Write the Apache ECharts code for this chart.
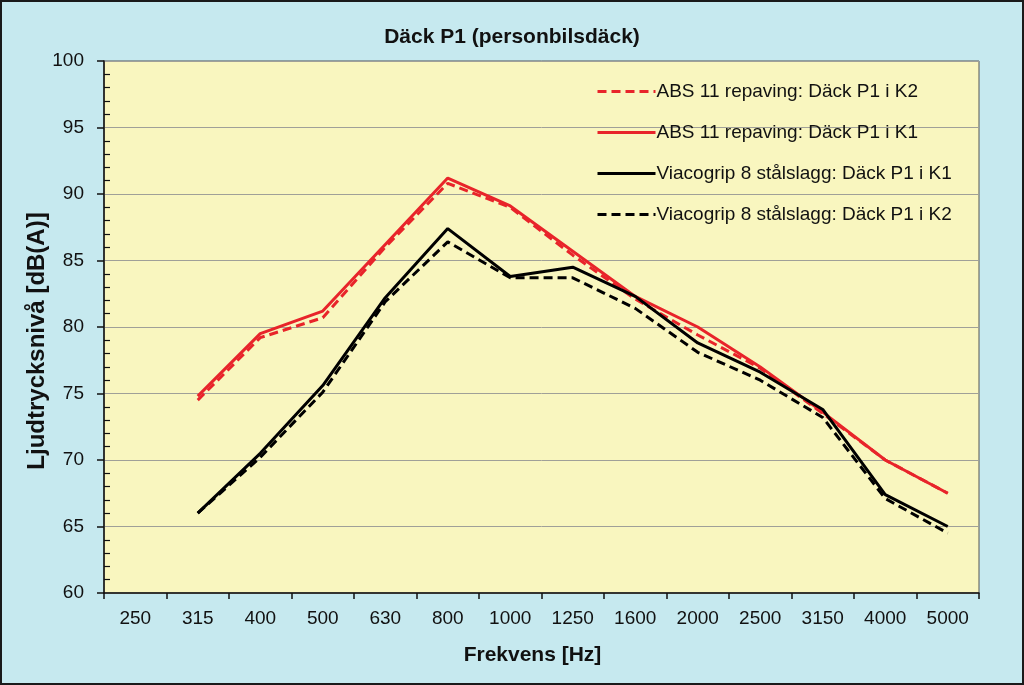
<!DOCTYPE html>
<html>
<head>
<meta charset="utf-8">
<script src="https://cdn.jsdelivr.net/npm/echarts@6/dist/echarts.min.js"></script>
<style>
  html, body { margin: 0; padding: 0; background: #c6e9ef; }
  #chart { width: 1024px; height: 685px; box-sizing: border-box; border: 2px solid #1a1a1a; }
</style>
</head>
<body>
<div id="chart"></div>
<script>
// frekvenser (tersband)
const frequencies = ['250', '315', '400', '500', '630', '800', '1000', '1250', '1600', '2000', '2500', '3150', '4000', '5000'];

// ljudtrycksnivå dB(A), 250 Hz saknas
const absK2 = [null, 74.5, 79.2, 80.7, 86.0, 90.8, 89.0, 85.4, 82.1, 79.4, 76.9, 73.5, 70.0, 67.5];
const absK1 = [null, 74.8, 79.5, 81.2, 86.2, 91.2, 89.1, 85.7, 82.3, 80.0, 77.0, 73.6, 70.0, 67.5];
const viaK1 = [null, 66.0, 70.5, 75.6, 82.2, 87.4, 83.8, 84.5, 82.3, 78.8, 76.6, 73.8, 67.4, 65.0];
const viaK2 = [null, 66.0, 70.2, 75.1, 81.9, 86.4, 83.7, 83.7, 81.4, 78.1, 76.0, 73.2, 67.1, 64.5];

const seriesNames = [
  'ABS 11 repaving: Däck P1 i K2',
  'ABS 11 repaving: Däck P1 i K1',
  'Viacogrip 8 stålslagg: Däck P1 i K1',
  'Viacogrip 8 stålslagg: Däck P1 i K2'
];

const font = '"Liberation Sans", Arial, sans-serif';
const myChart = echarts.init(document.getElementById('chart'));

const mkLine = (name, data, color, type) => ({
  name: name,
  type: 'line',
  data: data,
  showSymbol: false,
  symbol: 'none',
  connectNulls: false,
  lineStyle: { color: color, width: 3, type: type },
  itemStyle: { color: color },
  emphasis: { disabled: true }
});

let option = {
  animation: false,
  backgroundColor: '#c6e9ef',
  title: {
    text: 'Däck P1 (personbilsdäck)',
    left: 'center',
    top: 20,
    textStyle: { fontFamily: font, fontSize: 21, fontWeight: 'bold', color: '#111' }
  },
  legend: {
    orient: 'vertical',
    left: 589,
    top: 75,
    itemWidth: 58,
    itemHeight: 14,
    itemGap: 22,
    itemStyle: { opacity: 0 },
    lineStyle: { width: 3 },
    textStyle: { fontFamily: font, fontSize: 19, color: '#111', padding: [0, 0, 0, -4] },
    data: seriesNames
  },
  grid: {
    left: 102,
    top: 59,
    right: 43,
    bottom: 90,
    show: true,
    backgroundColor: '#f9f6bf',
    borderColor: '#555',
    borderWidth: 1
  },
  xAxis: {
    type: 'category',
    data: frequencies,
    boundaryGap: true,
    name: 'Frekvens [Hz]',
    nameLocation: 'middle',
    nameGap: 52,
    nameTextStyle: { fontFamily: font, fontSize: 21, fontWeight: 'bold', color: '#111', padding: [0, 18, 0, 0] },
    axisLine: { lineStyle: { color: '#111', width: 1.5 } },
    axisTick: { show: true, interval: 0, length: 6, lineStyle: { color: '#111', width: 1.5 } },
    axisLabel: { fontFamily: font, fontSize: 19, color: '#111', margin: 16, interval: 0 },
    splitLine: { show: false }
  },
  yAxis: [{
    type: 'value',
    min: 60,
    max: 100,
    interval: 5,
    name: 'Ljudtrycksnivå [dB(A)]',
    nameLocation: 'middle',
    nameGap: 55,
    nameMoveOverlap: false,
    nameTextStyle: { fontFamily: font, fontSize: 24, fontWeight: 'bold', color: '#111', padding: [0, 28, 0, 0] },
    axisLine: { show: true, lineStyle: { color: '#111', width: 1.5 } },
    axisTick: { show: true, length: 7, lineStyle: { color: '#111', width: 1.5 } },
    axisLabel: { fontFamily: font, fontSize: 19, color: '#111', margin: 20 },
    splitLine: { show: true, lineStyle: { color: '#a0a098', width: 1 } }
  }, {
    // osynlig axel för de små strecken på insidan
    type: 'value',
    position: 'left',
    min: 60,
    max: 100,
    interval: 5,
    axisLine: { show: false },
    axisTick: { show: false, inside: true },
    minorTick: { show: true, splitNumber: 5, length: 6, lineStyle: { color: '#111', width: 1.2 } },
    axisLabel: { show: false },
    splitLine: { show: false }
  }],
  series: [
    mkLine(seriesNames[0], absK2, '#e8242a', [9, 5]),
    mkLine(seriesNames[1], absK1, '#e8242a', 'solid'),
    mkLine(seriesNames[2], viaK1, '#000000', 'solid'),
    mkLine(seriesNames[3], viaK2, '#000000', [9, 5])
  ]
};

option && myChart.setOption(option);
</script>
</body>
</html>
